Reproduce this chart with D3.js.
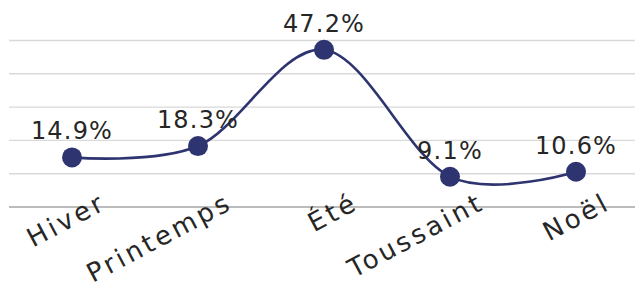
<!DOCTYPE html>
<html>
<head>
<script src="https://cdn.jsdelivr.net/npm/d3@7"></script>
<style>
  body { margin: 0; background: #fff; }
  text { font-family: "DejaVu Sans", sans-serif; fill: #262626; }
</style>
</head>
<body>
<div id="vis"></div>
<script type="text/javascript">

    const seasons = ["Hiver", "Printemps", "Été", "Toussaint", "Noël"];
    const shares = [14.9, 18.3, 47.2, 9.1, 10.6];
    const gridTicks = [0, 10, 20, 30, 40, 50];

    const W = 635, H = 284;
    const svg = d3.select("#vis").append("svg").attr("width", W).attr("height", H);

    const x = d3.scalePoint().domain(seasons).range([9, 639]).padding(0.5);
    const y = d3.scaleLinear().domain([0, 50]).range([207, 40.5]);

    // gridlines
    svg.append("g")
        .selectAll("line")
        .data(gridTicks)
        .enter()
        .append("line")
        .attr("x1", 9)
        .attr("x2", 639)
        .attr("y1", d => y(d))
        .attr("y2", d => y(d))
        .style("stroke", d => d === 0 ? "#a6a6a6" : "#d9d9d9")
        .style("stroke-width", 1.4);

    const data = d3.zip(seasons, shares).map(v => ({cat: v[0], val: v[1]}));

    // smoothed line
    const line = d3.line()
        .x(d => x(d.cat))
        .y(d => y(d.val))
        .curve(d3.curveCardinal.tension(0));

    svg.append("path")
        .datum(data)
        .attr("d", line)
        .style("fill", "none")
        .style("stroke", "#2e3470")
        .style("stroke-width", 2.6);

    svg.append("g")
        .selectAll("circle")
        .data(data)
        .enter()
        .append("circle")
        .attr("cx", d => x(d.cat))
        .attr("cy", d => y(d.val))
        .attr("r", 10)
        .style("fill", "#2e3470");

    // value labels
    svg.append("g")
        .selectAll("text")
        .data(data)
        .enter()
        .append("text")
        .attr("x", d => x(d.cat))
        .attr("y", d => y(d.val) - 18)
        .attr("text-anchor", "middle")
        .style("font-size", "24px")
        .style("letter-spacing", "1.2px")
        .text(d => d.val.toFixed(1) + "%");

    // category labels, rotated
    svg.append("g")
        .selectAll("text")
        .data(seasons)
        .enter()
        .append("text")
        .attr("transform", d => `translate(${x(d) + 36},${y(0) + 1}) rotate(-28)`)
        .attr("text-anchor", "end")
        .style("font-size", "26px")
        .style("letter-spacing", "3.2px")
        .text(d => d);

</script>
</body>
</html>
